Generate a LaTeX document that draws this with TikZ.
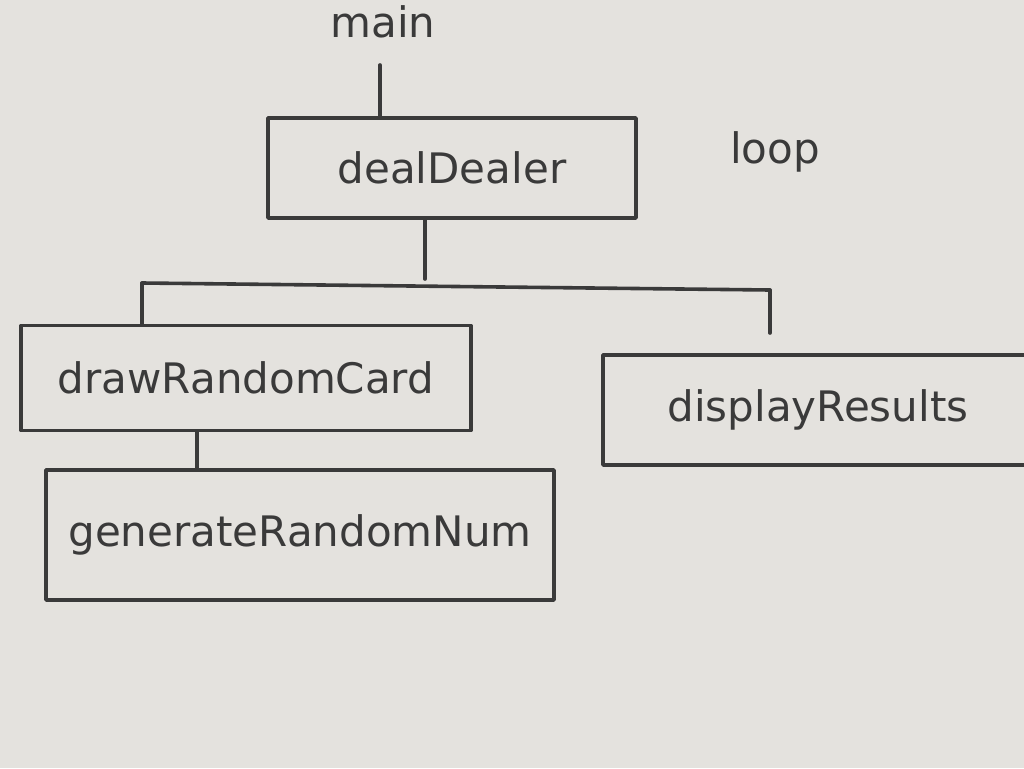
\documentclass[tikz,border=0pt]{standalone}
\usepackage{fontspec}
\setmainfont{DejaVu Sans}
\definecolor{board}{HTML}{E4E2DE}
\definecolor{ink}{HTML}{3A3A3A}
\begin{document}
\begin{tikzpicture}[x=1pt,y=-1pt,
  ink/.style={draw=ink,line width=3.6pt,line cap=round,line join=round},
  lbl/.style={text=ink,font=\fontsize{42}{48}\selectfont},
  box/.style={ink,minimum height=#1}]
\useasboundingbox[fill=board] (0,0) rectangle (1024,768);
\node[lbl] (main) at (383,22) {main};
\node[lbl] (loop) at (775,152) {loop};
\node[box=100pt,minimum width=368pt] (deal) at (452,168) {};
\node[lbl] at (deal.center) {dealDealer};
\node[box=105pt,minimum width=450pt] (draw) at (246,378) {};
\node[lbl] at (draw.center) {drawRandomCard};
\node[box=110pt,minimum width=430pt] (disp) at (818,410) {};
\node[lbl] at (disp.center) {displayResults};
\node[box=130pt,minimum width=508pt] (gen) at (300,535) {};
\node[lbl] at (gen.center) {generateRandomNum};
\coordinate (mtop) at (380,65);
\coordinate (bl) at (142,283);
\coordinate (br) at (770,290);
\coordinate (bm) at (425,279);
\coordinate (dx) at (197,0);
\draw[ink] (mtop) -- (deal.north -| mtop);
\draw[ink] (deal.south -| bm) -- (bm);
\draw[ink] (bl) -- (br);
\draw[ink] (bl) -- (bl |- draw.north);
\draw[ink] (br) -- (770,333);
\draw[ink] (dx |- draw.south) -- (dx |- gen.north);
\end{tikzpicture}
\end{document}
